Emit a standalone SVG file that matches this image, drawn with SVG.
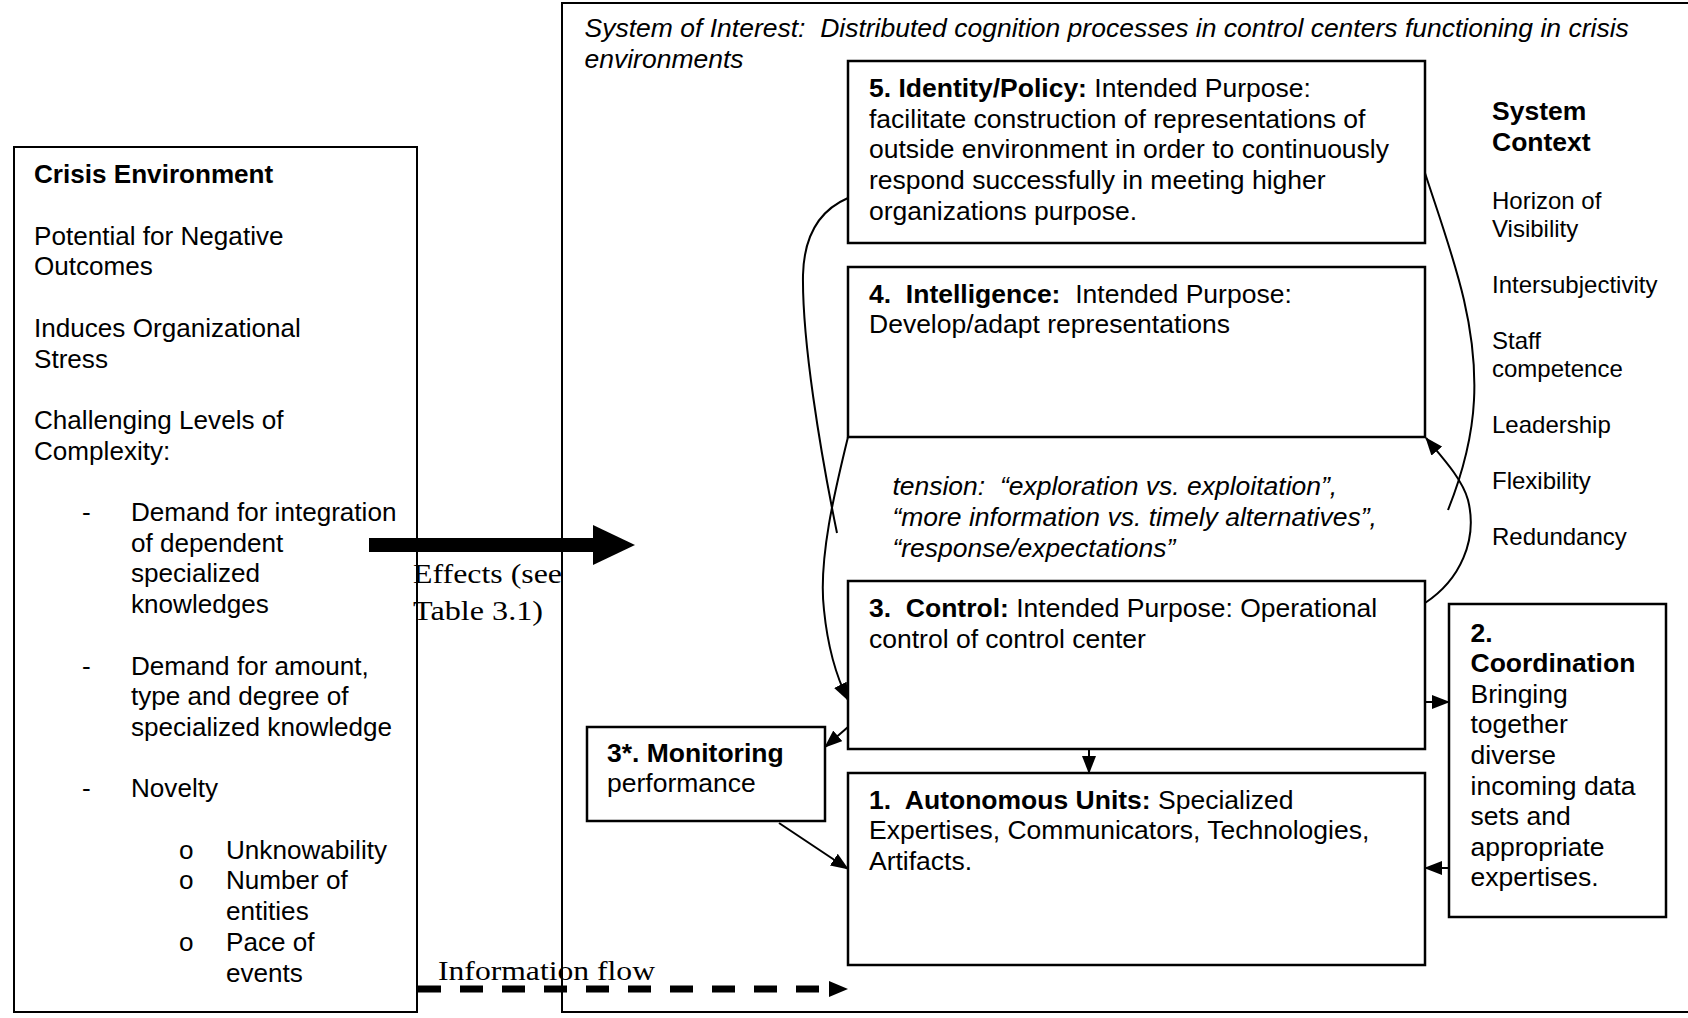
<svg xmlns="http://www.w3.org/2000/svg" width="1688" height="1018" viewBox="0 0 1688 1018">
  <style>
    text { font-family: "Liberation Sans", Arial, sans-serif; font-size: 26.5px; fill: #000; white-space: pre; }
    .env text { font-size: 26.1px; }
    .b { font-weight: bold; }
    .i { font-style: italic; }
    .sm { font-size: 24px; }
    .serif { font-family: "Liberation Serif", "Times New Roman", serif; font-size: 28px; }
    .frame { fill: #fff; stroke: #000; stroke-width: 2; }
    .box { fill: #fff; stroke: #000; stroke-width: 2.5; }
    .conn { fill: none; stroke: #000; stroke-width: 2; }
  </style>
  <defs>
    <marker id="ah" viewBox="0 0 18 14" refX="17" refY="7" markerWidth="18" markerHeight="14" markerUnits="userSpaceOnUse" orient="auto">
      <path d="M0,0 L18,7 L0,14 Z" fill="#000"/>
    </marker>
  </defs>

  <rect width="1688" height="1018" fill="#fff"/>

  <!-- Outer frames -->
  <g id="crisis-environment" class="env">
    <rect class="frame" x="14" y="147" width="403" height="865"/>
    <text x="34" y="183.3" class="b">Crisis Environment</text>
    <text x="34" y="244.7">Potential for Negative</text>
    <text x="34" y="275.4">Outcomes</text>
    <text x="34" y="336.8">Induces Organizational</text>
    <text x="34" y="367.5">Stress</text>
    <text x="34" y="428.9">Challenging Levels of</text>
    <text x="34" y="459.6">Complexity:</text>
    <text x="82" y="521">-</text>
    <text x="131" y="521">Demand for integration</text>
    <text x="131" y="551.7">of dependent</text>
    <text x="131" y="582.4">specialized</text>
    <text x="131" y="613.1">knowledges</text>
    <text x="82" y="674.5">-</text>
    <text x="131" y="674.5">Demand for amount,</text>
    <text x="131" y="705.2">type and degree of</text>
    <text x="131" y="735.9">specialized knowledge</text>
    <text x="82" y="797.3">-</text>
    <text x="131" y="797.3">Novelty</text>
    <text x="179" y="859">o</text>
    <text x="226" y="859">Unknowability</text>
    <text x="179" y="889.4">o</text>
    <text x="226" y="889.4">Number of</text>
    <text x="226" y="920.1">entities</text>
    <text x="179" y="950.8">o</text>
    <text x="226" y="950.8">Pace of</text>
    <text x="226" y="981.5">events</text>
  </g>

  <g id="system-of-interest">
    <rect class="frame" x="562" y="3" width="1140" height="1009"/>
    <text x="584.5" y="36.6" class="i">System of Interest:  Distributed cognition processes in control centers functioning in crisis</text>
    <text x="584.5" y="67.6" class="i">environments</text>
  </g>

  <!-- Connectors -->
  <g id="connectors">
    <!-- effects: heavy arrow from the environment into the system -->
    <rect x="369" y="538" width="226" height="14" fill="#000"/>
    <path d="M593,525 L635,545 L593,565 Z" fill="#000"/>
    <!-- information flow: dashed arrow -->
    <line x1="418" y1="989" x2="831" y2="989" stroke="#000" stroke-width="7" stroke-dasharray="23 19"/>
    <path d="M829,981 L848,989 L829,997 Z" fill="#000"/>

    <!-- loops on the left of the stack -->
    <path class="conn" d="M848,198 C820,210 804,235 803,275 C802,340 820,450 837,533"/>
    <path class="conn" marker-end="url(#ah)" d="M848,437 C835,490 818,560 824,610 C828,650 838,680 848,700"/>
    <!-- loops on the right of the stack -->
    <path class="conn" d="M1425,173 C1450,250 1478,320 1474,400 C1472,440 1460,480 1448,510"/>
    <path class="conn" marker-end="url(#ah)" d="M1425,603 C1460,580 1478,540 1468,500 C1462,478 1440,455 1426,438"/>

    <!-- straight links -->
    <line class="conn" x1="1089" y1="749" x2="1089" y2="773" marker-end="url(#ah)"/>
    <line class="conn" x1="1425" y1="702" x2="1449" y2="702" marker-end="url(#ah)"/>
    <line class="conn" x1="1449" y1="868" x2="1425" y2="868" marker-end="url(#ah)"/>
    <line class="conn" x1="848" y1="727" x2="825" y2="747" marker-end="url(#ah)"/>
    <line class="conn" x1="779" y1="823" x2="848" y2="869" marker-end="url(#ah)"/>
  </g>

  <!-- Labels on the outer connectors -->
  <text class="serif" x="413" y="583" textLength="149" lengthAdjust="spacingAndGlyphs">Effects (see</text>
  <text class="serif" x="413" y="620" textLength="130" lengthAdjust="spacingAndGlyphs">Table 3.1)</text>
  <text class="serif" x="438" y="980" textLength="217" lengthAdjust="spacingAndGlyphs">Information flow</text>

  <!-- Viable system functions -->
  <g id="identity-policy">
    <rect class="box" x="848" y="61" width="577" height="182"/>
    <text x="869" y="97"><tspan class="b">5. Identity/Policy:</tspan> Intended Purpose:</text>
    <text x="869" y="127.7">facilitate construction of representations of</text>
    <text x="869" y="158.4">outside environment in order to continuously</text>
    <text x="869" y="189.1">respond successfully in meeting higher</text>
    <text x="869" y="219.8">organizations purpose.</text>
  </g>

  <g id="intelligence">
    <rect class="box" x="848" y="267" width="577" height="170"/>
    <text x="869" y="302.5"><tspan class="b">4.  Intelligence:</tspan>  Intended Purpose:</text>
    <text x="869" y="333.2">Develop/adapt representations</text>
  </g>

  <g id="tension">
    <text x="892.4" y="495.2" class="i">tension:  “exploration vs. exploitation”,</text>
    <text x="892.4" y="525.9" class="i">“more information vs. timely alternatives”,</text>
    <text x="892.4" y="556.6" class="i">“response/expectations”</text>
  </g>

  <g id="control">
    <rect class="box" x="848" y="581" width="577" height="168"/>
    <text x="869" y="616.8"><tspan class="b">3.  Control:</tspan> Intended Purpose: Operational</text>
    <text x="869" y="647.5">control of control center</text>
  </g>

  <g id="monitoring">
    <rect class="box" x="587" y="727" width="238" height="94"/>
    <text x="607" y="762.2" class="b">3*. Monitoring</text>
    <text x="607" y="792.3">performance</text>
  </g>

  <g id="autonomous-units">
    <rect class="box" x="848" y="773" width="577" height="192"/>
    <text x="869" y="808.5"><tspan class="b">1.  Autonomous Units:</tspan> Specialized</text>
    <text x="869" y="839.2">Expertises, Communicators, Technologies,</text>
    <text x="869" y="869.9">Artifacts.</text>
  </g>

  <g id="coordination">
    <rect class="box" x="1449" y="604" width="217" height="313"/>
    <text x="1470.5" y="641.6" class="b">2.</text>
    <text x="1470.5" y="672.2" class="b">Coordination</text>
    <text x="1470.5" y="702.8">Bringing</text>
    <text x="1470.5" y="733.4">together</text>
    <text x="1470.5" y="764">diverse</text>
    <text x="1470.5" y="794.6">incoming data</text>
    <text x="1470.5" y="825.2">sets and</text>
    <text x="1470.5" y="855.8">appropriate</text>
    <text x="1470.5" y="886.4">expertises.</text>
  </g>

  <g id="system-context">
    <text x="1492" y="120" class="b">System</text>
    <text x="1492" y="150.5" class="b">Context</text>
    <text x="1492" y="208.8" class="sm">Horizon of</text>
    <text x="1492" y="236.8" class="sm">Visibility</text>
    <text x="1492" y="292.8" class="sm">Intersubjectivity</text>
    <text x="1492" y="348.8" class="sm">Staff</text>
    <text x="1492" y="376.8" class="sm">competence</text>
    <text x="1492" y="432.8" class="sm">Leadership</text>
    <text x="1492" y="488.8" class="sm">Flexibility</text>
    <text x="1492" y="544.8" class="sm">Redundancy</text>
  </g>
</svg>
